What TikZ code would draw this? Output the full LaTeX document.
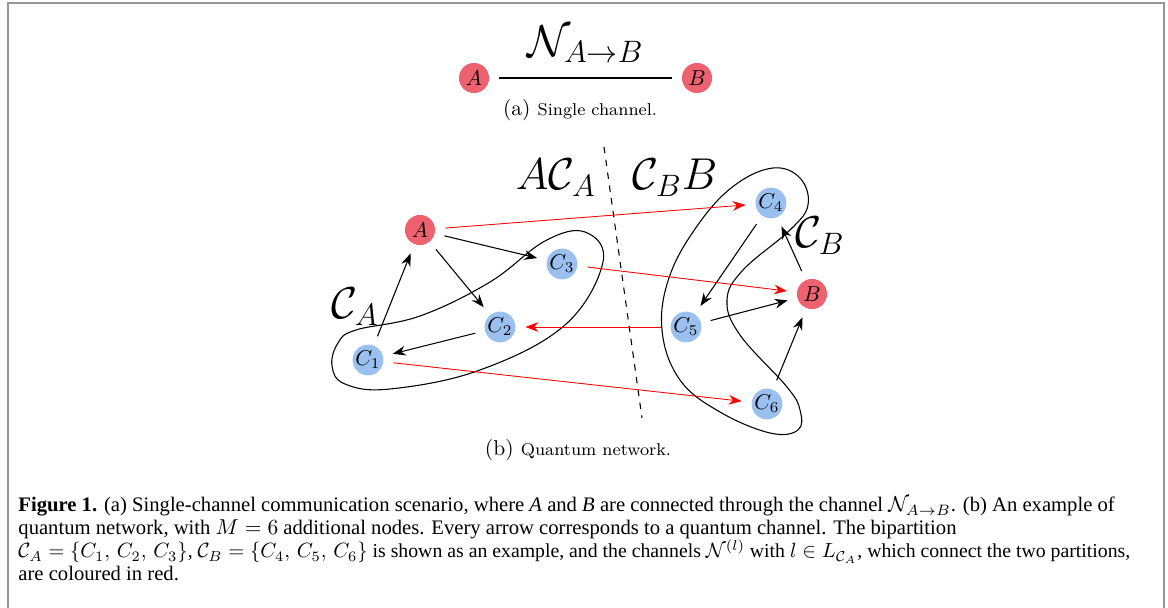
\documentclass[tikz,border=0pt]{standalone}
\usepackage{amsmath, amssymb}
\usepackage{graphicx}
\usepackage{fontspec}
\newfontfamily\capfont{Liberation Serif}
\usepackage{tikz}
\usetikzlibrary{arrows.meta, positioning}
\definecolor{nodered}{RGB}{238, 98, 112}
\definecolor{nodeblue}{RGB}{154, 192, 240}
\definecolor{framegray}{RGB}{150, 150, 150}

\tikzset{
    party/.style={circle, fill=nodered, minimum size=14pt, inner sep=0pt},
    relay/.style={circle, fill=nodeblue, minimum size=14pt, inner sep=0pt},
    chan/.style={-{Stealth[length=6pt, width=4.5pt]}, line width=0.5pt, shorten >=4.5pt, shorten <=4.5pt},
    cut/.style={chan, red, line width=0.4pt},
    blob/.style={line width=0.5pt, smooth cycle, tension=0.65}
}

\begin{document}
\begin{tikzpicture}[x=0.465pt, y=-0.465pt]
            \useasboundingbox (0,0) rectangle (1168,608);
            \draw[framegray, line width=1pt] (8,608) -- (8,3) -- (1164,3) -- (1164,608);

            % (a) single channel
            \node[party] (a1) at (474,78) {$A$};
            \node[party] (b1) at (697,78) {$B$};
            \draw[line width=0.5pt, shorten >=4.5pt, shorten <=4.5pt] (a1) -- node[above=3.5pt] {\huge $\mathcal{N}_{A\rightarrow B}$} (b1);
            \node (capa) at (580,110) {(a) {\footnotesize Single channel.}};

            % (b) quantum network
            \node[party] (A) at (420,230) {$A$};
            \node[party] (B) at (812,294) {$B$};
            \foreach \i/\x/\y in {1/368/360, 2/500/327, 3/562/264, 4/771/203, 5/686/327, 6/767/404} {
                \node[relay] (C\i) at (\x,\y) {$C_\i$};
            }

            \draw[blob] plot coordinates {(356,330) (420,316) (490,282) (545,241) (585,232) (603,262)
                (565,325) (480,370) (390,389) (345,384) (332,366) (338,343)};
            \draw[blob] plot coordinates {(773,168) (800,178) (808,205) (790,230) (743,270) (727,300)
                (740,335) (787,387) (800,410) (798,430) (770,433) (720,412) (680,380) (662,330)
                (670,275) (700,222) (735,185)};

            \coordinate (cuttop) at (604,147);
            \coordinate (cutbot) at (642,418);
            \draw[dashed, line width=0.5pt] (cuttop) -- (cutbot);

            \node (lab1) at (556,178) {\huge $A\mathcal{C}_A$};
            \node (lab2) at (675,178) {\huge $\mathcal{C}_B B$};
            \node (lab3) at (355,307) {\huge $\mathcal{C}_A$};
            \node (lab4) at (820,236) {\huge $\mathcal{C}_B$};

            \draw[chan] (A) -- (C3);
            \draw[chan] (A) -- (C2);
            \draw[chan] (C1) -- (A);
            \draw[chan] (C2) -- (C1);
            \draw[chan] (C4) -- (C5);
            \draw[chan] (C5) -- (B);
            \draw[chan] (C6) -- (B);
            \draw[chan] (B) -- (C4);
            \draw[cut] (A) -- (C4);
            \draw[cut] (C3) -- (B);
            \draw[cut] (C5) -- (C2);
            \draw[cut] (C1) -- (C6);

            \node (capb) at (578,450) {(b) {\footnotesize Quantum network.}};

            % caption
            \begin{scope}[every node/.style={anchor=base west, inner sep=0pt, font=\capfont\fontsize{9.6}{11}\selectfont}]
                \node (l1) at (18,512) {\textbf{Figure 1.} (a) Single-channel communication scenario, where \textit{A} and \textit{B} are connected through the channel $\mathcal{N}_{A\rightarrow B}$. (b) An example of};
                \node (l2) at (18,535) {quantum network, with $M=6$ additional nodes. Every arrow corresponds to a quantum channel. The bipartition};
                \node (l3) at (18,558) {\resizebox{517pt}{!}{$\mathcal{C}_A=\{C_1,\,C_2,\,C_3\}$, $\mathcal{C}_B=\{C_4,\,C_5,\,C_6\}$ is shown as an example, and the channels $\mathcal{N}^{(l)}$ with $l\in L_{\mathcal{C}_A}$, which connect the two partitions,}};
                \node (l4) at (18,581) {are coloured in red.};
            \end{scope}
        \end{tikzpicture}
\end{document}
